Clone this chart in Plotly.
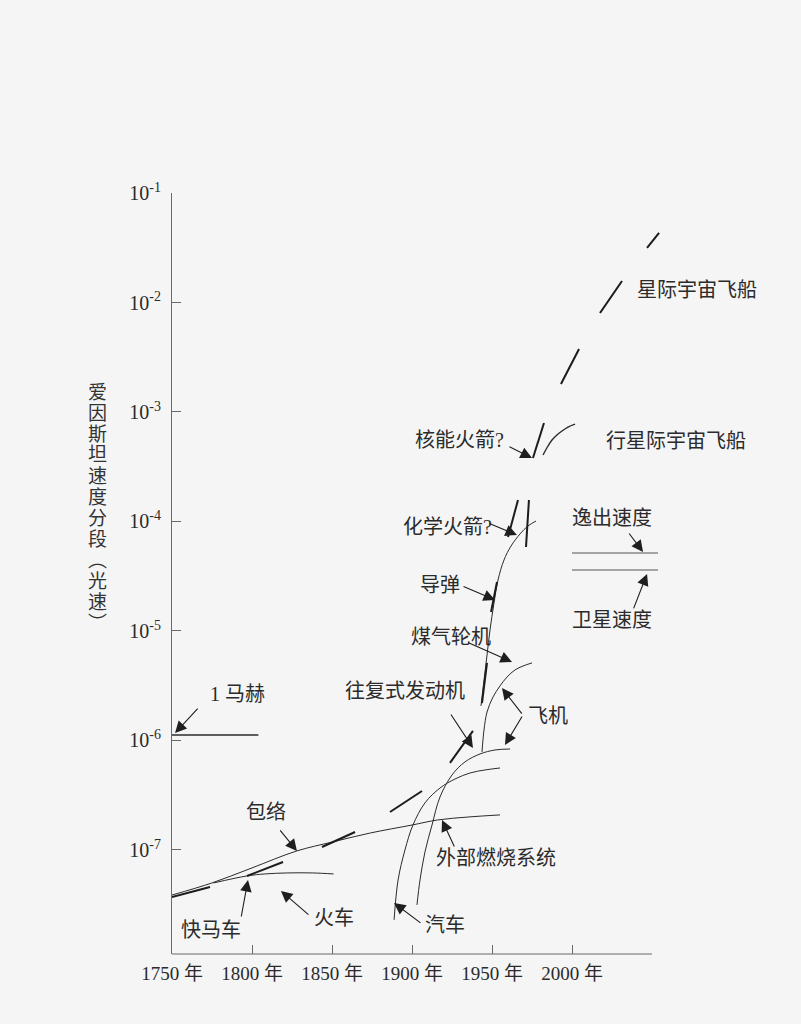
import numpy as np
import plotly.graph_objects as go

FONT = "Liberation Serif, Noto Sans CJK SC, serif"
INK = "#2b2b2b"
AXIS = "#6a6a6a"
BG = "#f5f5f5"

# ---------------- data (year, speed as fraction of c) ----------------
tick_years = [1750, 1800, 1850, 1900, 1950, 2000]
tick_year_labels = ["1750 年", "1800 年", "1850 年", "1900 年", "1950 年", "2000 年"]
tick_speeds = [1e-1, 1e-2, 1e-3, 1e-4, 1e-5, 1e-6, 1e-7]
tick_speed_labels = ["10<sup>-1</sup>", "10<sup>-2</sup>", "10<sup>-3</sup>", "10<sup>-4</sup>",
                     "10<sup>-5</sup>", "10<sup>-6</sup>", "10<sup>-7</sup>"]

# envelope (dashed thick segments)
env_start_year = [1750, 1796.9, 1843.75, 1886.25, 1923.75, 1943.75, 1949.4, 1960, 1971.25, 1975.6, 1993.1, 2017.5, 2046.9]
env_start_speed = [3.72e-8, 5.79e-8, 1.064e-7, 2.223e-7, 6.237e-7, 2.198e-6, 1.489e-5, 7.21e-5, 5.85e-5, 3.80e-4, 1.803e-3, 8.02e-3, 3.148e-2]
env_end_year = [1773.75, 1819.4, 1864.4, 1906.25, 1938.1, 1946.9, 1953.1, 1966.25, 1973.1, 1982.5, 2004.4, 2031.25, 2054.4]
env_end_speed = [4.59e-8, 7.76e-8, 1.459e-7, 3.459e-7, 1.222e-6, 5.105e-6, 2.80e-5, 1.570e-4, 1.570e-4, 7.94e-4, 3.758e-3, 1.570e-2, 4.315e-2]

# Mach 1
mach_years = [1750, 1804]
mach_speed = [1.12e-6, 1.12e-6]

# external combustion systems
ext_years = [1750, 1775, 1800, 1828, 1850, 1874, 1900, 1916, 1935, 1955]
ext_speed = [3.88e-8, 5.0e-8, 6.86e-8, 9.8e-8, 1.18e-7, 1.43e-7, 1.69e-7, 1.88e-7, 2.0e-7, 2.09e-7]

# train
train_years = [1776, 1797, 1808, 1822, 1838, 1851]
train_speed = [5.0e-8, 5.8e-8, 6.04e-8, 6.17e-8, 6.17e-8, 6.04e-8]

# automobile
car_years = [1888.8, 1891.3, 1895.6, 1900.6, 1908.1, 1917.5, 1926.9, 1936.3, 1945.6, 1955]
car_speed = [2.30e-8, 5.32e-8, 1.0e-7, 1.69e-7, 2.69e-7, 3.68e-7, 4.45e-7, 5.05e-7, 5.38e-7, 5.61e-7]

# aircraft, reciprocating engines
plane_years = [1903.1, 1905, 1908.1, 1912.5, 1917.5, 1925, 1933.1, 1942.5, 1951.9, 1961.3]
plane_speed = [3.15e-8, 5.32e-8, 9.59e-8, 1.69e-7, 3.05e-7, 4.84e-7, 6.37e-7, 7.53e-7, 8.19e-7, 8.36e-7]

# aircraft, gas turbines
jet_years = [1943.75, 1945, 1946.9, 1950.6, 1955, 1959.4, 1964.4, 1969.4, 1975]
jet_speed = [7.85e-7, 1.247e-6, 1.82e-6, 2.49e-6, 3.15e-6, 3.80e-6, 4.41e-6, 4.79e-6, 5.11e-6]

# rockets
rocket_years = [1943.1, 1945, 1946.9, 1948.75, 1951.25, 1953.75, 1957.5, 1961.9, 1967.5, 1972.5, 1977.5]
rocket_speed = [2.07e-6, 3.57e-6, 6.04e-6, 1.02e-5, 1.80e-5, 2.92e-5, 4.45e-5, 5.97e-5, 7.69e-5, 9.10e-5, 1.01e-4]

# interplanetary spaceship
planet_years = [1981.9, 1985, 1987.5, 1990.6, 1993.75, 1997.5, 2001.9]
planet_speed = [4.05e-4, 4.89e-4, 5.55e-4, 6.17e-4, 6.70e-4, 7.29e-4, 7.76e-4]

# escape / satellite velocity
ref_years = [2000, 2053.75]
escape_speed = 5.15e-5
satellite_speed = 3.6e-5

# arrow tips (year, speed)
arrow_names = ["1 马赫", "包络", "快马车", "火车", "汽车", "外部燃烧系统", "往复式发动机",
               "飞机a", "飞机b", "煤气轮机", "导弹", "化学火箭", "核能火箭", "逸出速度", "卫星速度"]
arrow_year = [1751.9, 1828.1, 1797.5, 1818.1, 1888.75, 1918.75, 1938.1,
              1956.25, 1958.1, 1962.5, 1951.9, 1965.6, 1975, 2044.4, 2046.9]
arrow_speed = [1.17e-6, 9.8e-8, 5.32e-8, 4.23e-8, 3.28e-8, 1.88e-7, 8.55e-7,
               3.01e-6, 9.10e-7, 5.21e-6, 1.92e-5, 7.53e-5, 3.80e-4, 5.26e-5, 3.32e-5]

# ---------------- figure ----------------
fig = go.Figure()

def add_line(x, y, width, color=INK, smooth=True):
    fig.add_trace(go.Scatter(
        x=x, y=y, mode="lines",
        line=dict(color=color, width=width, shape="spline" if smooth else "linear", smoothing=1.0),
        hoverinfo="skip", showlegend=False))

# thin technology curves
add_line(ext_years, ext_speed, 1.0)
add_line(train_years, train_speed, 1.0)
add_line(car_years, car_speed, 1.0)
add_line(plane_years, plane_speed, 1.0)
add_line(jet_years, jet_speed, 1.0)
add_line(rocket_years, rocket_speed, 1.0)
add_line(planet_years, planet_speed, 1.4)
add_line(mach_years, mach_speed, 1.5, smooth=False)
add_line(ref_years, [escape_speed] * 2, 1.1, color="#555555", smooth=False)
add_line(ref_years, [satellite_speed] * 2, 1.1, color="#555555", smooth=False)

# envelope dashes
ex, ey = [], []
for x0, y0, x1, y1 in zip(env_start_year, env_start_speed, env_end_year, env_end_speed):
    ex += [x0, x1, None]
    ey += [y0, y1, None]
fig.add_trace(go.Scatter(x=ex, y=ey, mode="lines", line=dict(color="#1c1c1c", width=2.0),
                         connectgaps=False, hoverinfo="skip", showlegend=False))

# ---------------- arrows ----------------
arrow_tail = {  # pixel offsets of arrow tails from their tips
    "1 马赫": (24, -26), "包络": (-18, -22), "快马车": (-7, 38), "火车": (29, 25),
    "汽车": (28, 21), "外部燃烧系统": (13, 28), "往复式发动机": (-23, -35),
    "飞机a": (21, 27), "飞机b": (18, -30), "煤气轮机": (-45, -20), "导弹": (-33, -14),
    "化学火箭": (-29, -12), "核能火箭": (-24, -12), "逸出速度": (-15, -20), "卫星速度": (-14, 36),
}
annotations = []
for name, yr, sp in zip(arrow_names, arrow_year, arrow_speed):
    ax, ay = arrow_tail[name]
    annotations.append(dict(
        x=yr, y=float(np.log10(sp)), xref="x", yref="y", text="",
        showarrow=True, ax=ax, ay=ay, axref="pixel", ayref="pixel",
        arrowhead=2, arrowsize=2.1, arrowwidth=1.1, arrowcolor="#1e1e1e", standoff=0))

# ---------------- labels ----------------
L, T, W, H = 172, 193, 510, 761

def paper(px, py):
    return (px - L) / W, (T + H - py) / H

labels = [
    ("星际宇宙飞船", 697, 290), ("行星际宇宙飞船", 676, 441), ("核能火箭?", 459, 440),
    ("化学火箭?", 447, 527), ("导弹", 440, 585), ("煤气轮机", 451, 637),
    ("往复式发动机", 405, 691), ("飞机", 548, 716), ("1 马赫", 237, 694),
    ("包络", 266, 812), ("外部燃烧系统", 496, 858), ("汽车", 445, 925),
    ("火车", 334, 918), ("快马车", 211, 930), ("逸出速度", 612, 518), ("卫星速度", 612, 620),
]
for txt, px, py in labels:
    xp, yp = paper(px, py)
    annotations.append(dict(x=xp, y=yp, xref="paper", yref="paper", text=txt, showarrow=False,
                            xanchor="center", yanchor="middle",
                            font=dict(family=FONT, size=20, color=INK)))

# vertical axis title
title_chars = list("爱因斯坦速度分段︵光速︶")
for i, ch in enumerate(title_chars):
    xp, yp = paper(97, 392 + 21 * i)
    annotations.append(dict(x=xp, y=yp, xref="paper", yref="paper", text=ch, showarrow=False,
                            xanchor="center", yanchor="middle",
                            font=dict(family=FONT, size=19, color="#333333")))

fig.update_layout(
    width=801, height=1024,
    margin=dict(l=L, r=801 - L - W, t=T, b=1024 - T - H, pad=0),
    paper_bgcolor=BG, plot_bgcolor=BG, showlegend=False,
    font=dict(family=FONT, color=INK, size=19),
    annotations=annotations,
    shapes=[dict(type="line", xref="x", yref="paper", x0=1750, x1=2050, y0=0, y1=0,
                 line=dict(color=AXIS, width=1.2))],
)
fig.update_xaxes(range=[1750, 1750 + W / 1.6], tickvals=tick_years, ticktext=tick_year_labels,
                 ticks="inside", ticklen=9, tickcolor=AXIS, tickwidth=1,
                 showgrid=False, zeroline=False, showline=False,
                 tickfont=dict(family=FONT, size=19, color=INK), ticklabelstandoff=6)
fig.update_yaxes(type="log", range=[-7.95, -1.0], tickvals=tick_speeds, ticktext=tick_speed_labels,
                 ticks="inside", ticklen=9, tickcolor=AXIS, tickwidth=1,
                 showgrid=False, zeroline=False, showline=True, linecolor=AXIS, linewidth=1.2,
                 tickfont=dict(family=FONT, size=20, color=INK), ticklabelstandoff=6)

fig.write_html("out.html")
